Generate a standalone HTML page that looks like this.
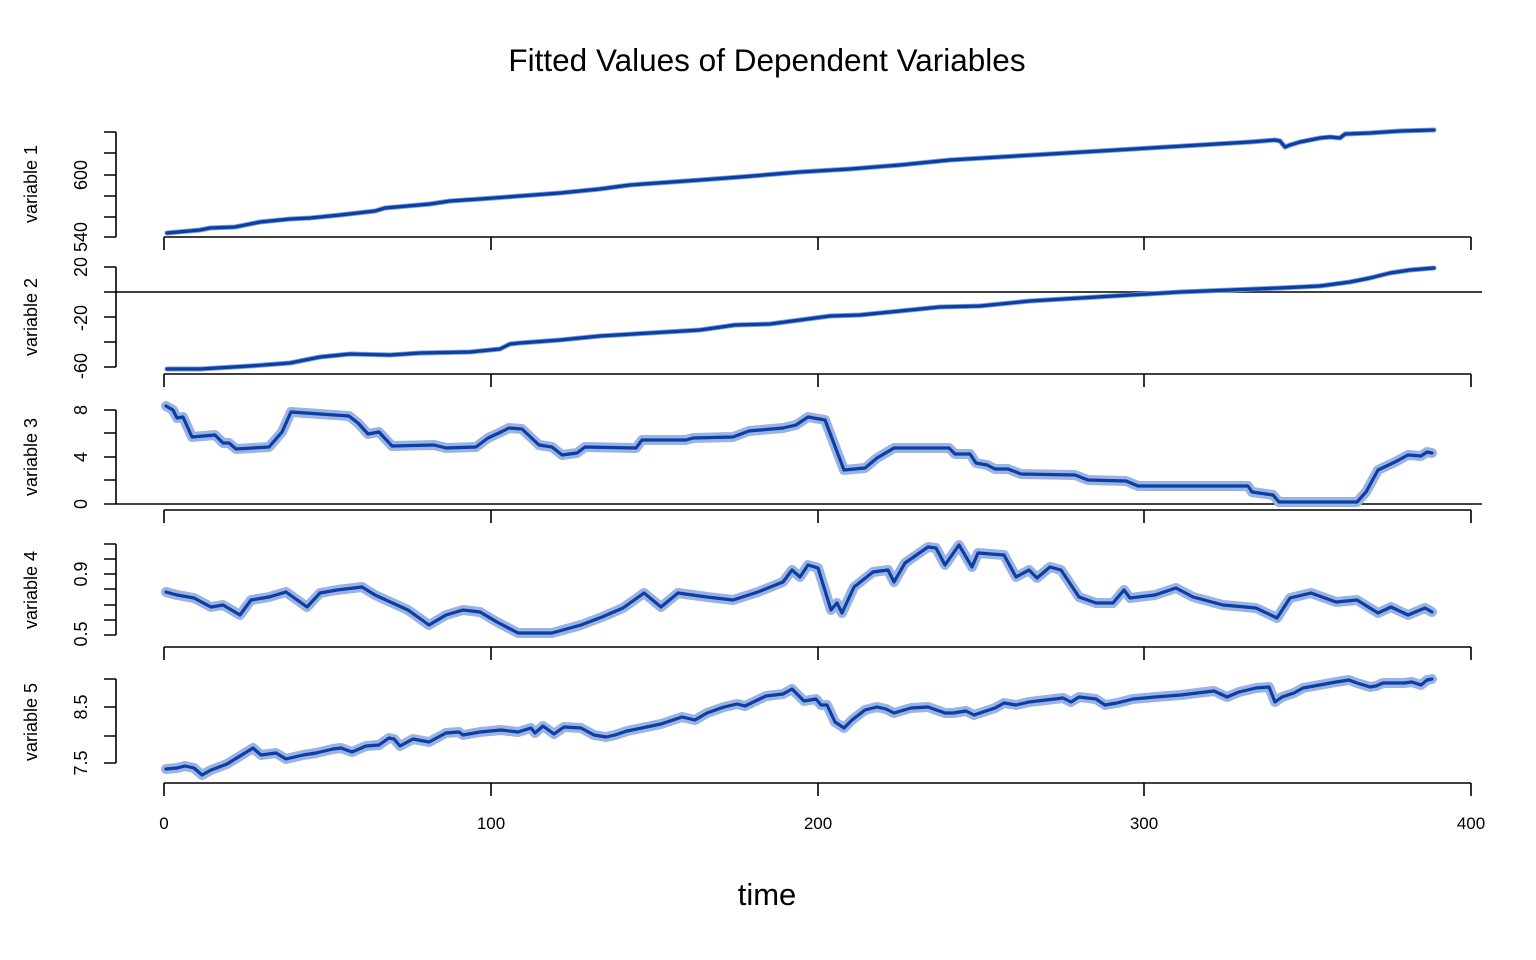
<!DOCTYPE html>
<html><head><meta charset="utf-8"><style>
html,body{margin:0;padding:0;background:#fff;}
svg{display:block;font-family:"Liberation Sans",Arial,sans-serif;}
</style></head><body>
<svg width="1536" height="960" viewBox="0 0 1536 960" xmlns="http://www.w3.org/2000/svg">
<text x="767" y="71" font-size="31.5" text-anchor="middle">Fitted Values of Dependent Variables</text>
<text x="767" y="905" font-size="31" text-anchor="middle">time</text>
<g stroke="#000" stroke-width="1.6" fill="none">
<path d="M116 132V237M104 132H116M104 153H116M104 175H116M104 196H116M104 217H116M104 237H116"/>
<path d="M164 237H1471M164 237V250M491 237V250M818 237V250M1144 237V250M1471 237V250"/>
<path d="M116 267V367M104 267H116M104 317H116M104 342H116M104 367H116M104 292H1482"/>
<path d="M164 374H1471M164 374V387M491 374V387M818 374V387M1144 374V387M1471 374V387"/>
<path d="M116 410V504M104 410H116M104 433H116M104 457H116M104 480H116M104 504H1482"/>
<path d="M164 510H1471M164 510V523M491 510V523M818 510V523M1144 510V523M1471 510V523"/>
<path d="M116 544V635M104 544H116M104 559H116M104 574H116M104 589H116M104 605H116M104 620H116M104 635H116"/>
<path d="M164 647H1471M164 647V660M491 647V660M818 647V660M1144 647V660M1471 647V660"/>
<path d="M116 679V763M104 679H116M104 707H116M104 736H116M104 763H116"/>
<path d="M164 783H1471M164 783V796M491 783V796M818 783V796M1144 783V796M1471 783V796"/>
</g>
<g font-size="18" text-anchor="middle">
<text transform="translate(37,184) rotate(-90)">variable 1</text>
<text transform="translate(37,317) rotate(-90)">variable 2</text>
<text transform="translate(37,457) rotate(-90)">variable 3</text>
<text transform="translate(37,590) rotate(-90)">variable 4</text>
<text transform="translate(37,722) rotate(-90)">variable 5</text>
</g>
<g font-size="18" text-anchor="middle">
<text transform="translate(87,175) rotate(-90)">600</text>
<text transform="translate(87,237) rotate(-90)">540</text>
<text transform="translate(87,267) rotate(-90)">20</text>
<text transform="translate(87,318) rotate(-90)">-20</text>
<text transform="translate(87,366) rotate(-90)">-60</text>
<text transform="translate(87,410) rotate(-90)">8</text>
<text transform="translate(87,457) rotate(-90)">4</text>
<text transform="translate(87,504) rotate(-90)">0</text>
<text transform="translate(87,574) rotate(-90)">0.9</text>
<text transform="translate(87,634) rotate(-90)">0.5</text>
<text transform="translate(87,707) rotate(-90)">8.5</text>
<text transform="translate(87,763) rotate(-90)">7.5</text>
</g>
<g font-size="17" text-anchor="middle">
<text x="164" y="829">0</text><text x="491" y="829">100</text><text x="818" y="829">200</text><text x="1144" y="829">300</text><text x="1471" y="829">400</text>
</g>
<g fill="none" stroke-linejoin="round" stroke-linecap="round">
<g stroke="#7f9fd8" stroke-width="5">
<path id="p1" d="M167 233L200 230L210 228L235 227L260 222L290 219L310 218L340 215L375 211L385 208L430 204L450 201L480 199L520 196L560 193L600 189L630 185L700 180L740 177L800 172L850 169L900 165L950 160L1000 157L1050 154L1100 151L1150 148L1200 145L1250 142L1275 140L1280 141L1285 147L1290 145L1300 142L1320 138L1330 137L1340 138L1345 134L1370 133L1400 131L1434 130"/>
<path id="p2" d="M167 369L200 369L250 366L290 363L320 357L350 354L390 355L420 353L470 352L500 349L510 344L520 343L560 340L600 336L650 333L700 330L735 325L770 324L800 320L830 316L860 315L900 311L940 307L980 306L1030 301L1080 298L1130 295L1180 292L1230 290L1280 288L1320 286L1350 282L1370 278L1390 273L1410 270L1434 268"/>
</g>
<g stroke="#9bb3e2" stroke-width="10">
<path id="p3" d="M166 406L173 410L177 418L183 417L192 437L215 435L223 443L229 443L236 449L269 447L282 432L291 412L349 416L358 423L368 434L379 432L392 446L434 445L446 448L476 447L488 438L501 432L509 428L522 429L539 445L552 447L562 455L577 453L585 447L636 448L642 440L686 440L693 438L733 437L749 431L783 428L796 425L808 417L825 420L844 470L865 468L877 458L894 448L911 448L949 448L955 454L970 454L976 463L987 465L995 469L1008 469L1021 474L1075 475L1088 480L1126 481L1138 486L1248 486L1252 492L1273 495L1279 502L1357 502L1366 492L1378 470L1395 462L1408 455L1421 456L1427 452L1432 453"/>
<path id="p4" d="M166 592L177 595L194 598L211 607L223 605L240 615L251 600L269 597L286 592L307 607L320 593L337 590L362 587L375 595L408 610L429 625L446 615L463 610L480 612L497 622L518 633L531 633L552 633L581 625L602 617L623 608L644 593L661 607L678 593L707 597L733 600L758 592L783 582L792 570L800 577L808 565L818 568L831 610L837 603L842 613L854 587L873 572L888 570L894 582L905 563L928 547L936 548L945 565L959 545L972 567L978 553L1004 555L1016 577L1029 570L1037 578L1050 567L1061 570L1079 597L1096 603L1113 603L1124 590L1130 598L1155 595L1176 588L1193 597L1223 605L1256 608L1277 618L1290 598L1311 593L1336 602L1357 600L1378 613L1391 607L1408 615L1425 608L1432 612"/>
<path id="p5" d="M166 769L177 768L185 766L194 768L202 775L211 770L227 764L240 756L253 748L261 755L276 753L286 759L303 755L316 753L333 749L341 748L352 752L366 746L379 745L389 738L394 739L400 746L413 739L429 742L446 733L459 732L463 735L480 732L501 730L518 732L531 728L535 733L543 726L554 734L564 727L581 728L594 735L606 737L615 735L627 731L661 724L682 717L695 720L707 713L724 707L737 704L745 706L766 696L783 694L792 689L804 701L816 699L821 705L827 705L835 722L844 728L852 720L865 710L877 707L886 709L894 713L911 708L928 707L945 713L953 713L966 711L974 715L995 708L1004 703L1016 705L1029 702L1063 698L1071 702L1079 697L1096 699L1105 705L1117 703L1133 699L1155 697L1181 695L1197 693L1214 691L1227 697L1239 692L1256 688L1269 687L1275 702L1282 697L1294 693L1303 688L1336 682L1349 680L1357 683L1370 687L1376 686L1383 683L1404 683L1412 682L1421 685L1427 680L1432 679"/>
</g>
<g stroke="#0b3fa6" stroke-width="3.2">
<use href="#p1"/><use href="#p2"/><use href="#p3"/><use href="#p4"/><use href="#p5"/>
</g>
</g>
</svg>
</body></html>
